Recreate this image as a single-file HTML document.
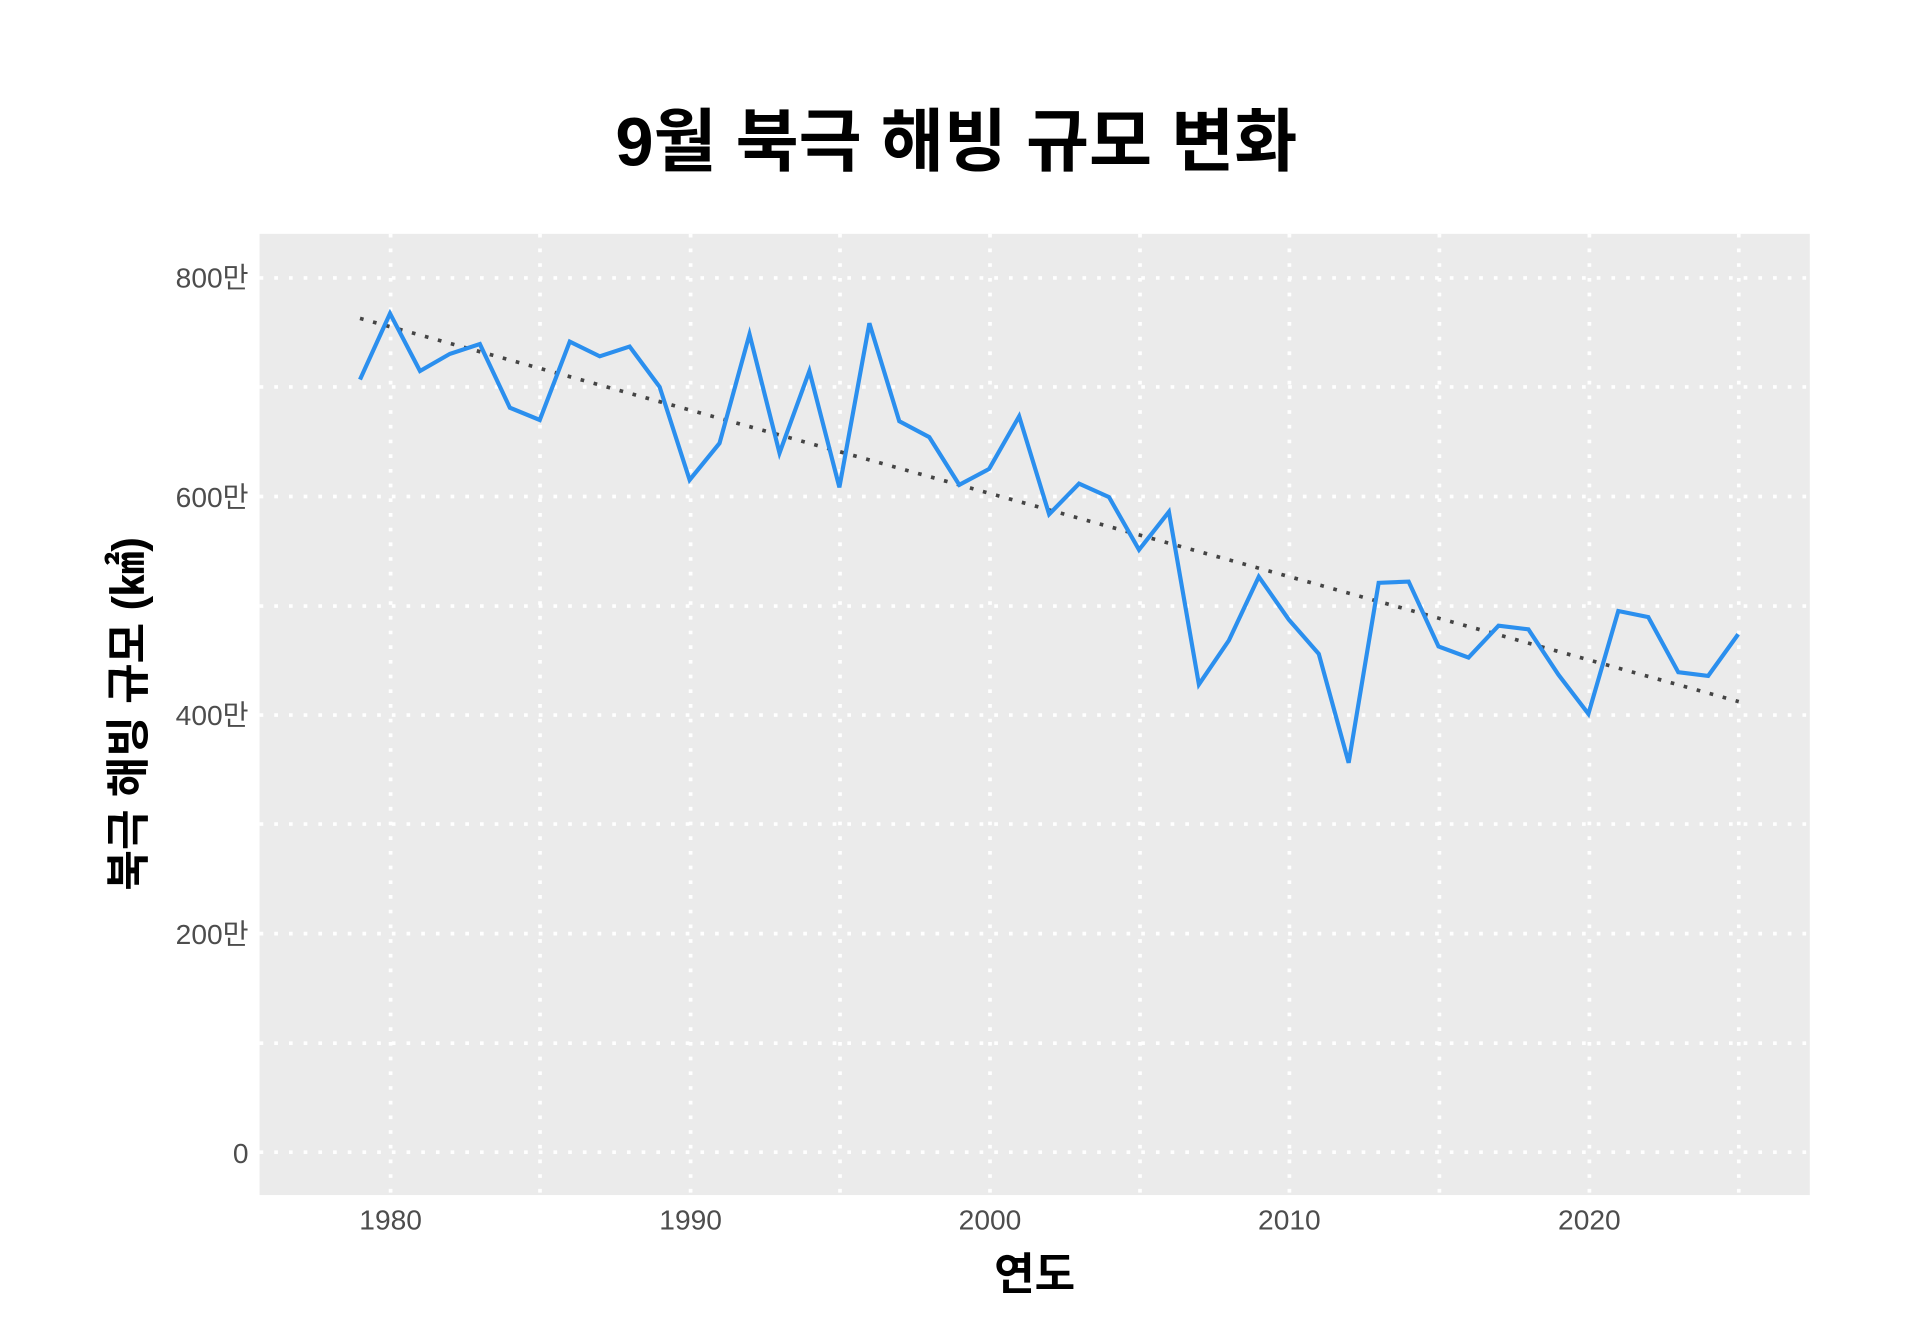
<!DOCTYPE html>
<html><head><meta charset="utf-8"><style>html,body{margin:0;padding:0;background:#fff;}svg{display:block}</style></head>
<body>
<svg width="1920" height="1329" viewBox="0 0 1568 1085.4" preserveAspectRatio="none" xmlns="http://www.w3.org/2000/svg" font-family="'Liberation Sans','Noto Sans CJK KR',sans-serif">
<rect x="212" y="191" width="1266" height="785" fill="#ebebeb"/>
<g stroke="#fff" stroke-width="3" stroke-dasharray="3 9" fill="none">
<line x1="212" x2="1478" y1="227" y2="227"/><line x1="212" x2="1478" y1="316" y2="316"/>
<line x1="212" x2="1478" y1="405.5" y2="405.5"/><line x1="212" x2="1478" y1="495" y2="495"/>
<line x1="212" x2="1478" y1="584" y2="584"/><line x1="212" x2="1478" y1="673" y2="673"/>
<line x1="212" x2="1478" y1="762.5" y2="762.5"/><line x1="212" x2="1478" y1="852" y2="852"/>
<line x1="212" x2="1478" y1="941" y2="941"/>
<line y1="191" y2="976" x1="319" x2="319"/><line y1="191" y2="976" x1="441" x2="441"/>
<line y1="191" y2="976" x1="564" x2="564"/><line y1="191" y2="976" x1="686" x2="686"/>
<line y1="191" y2="976" x1="808.5" x2="808.5"/><line y1="191" y2="976" x1="931" x2="931"/>
<line y1="191" y2="976" x1="1053" x2="1053"/><line y1="191" y2="976" x1="1175.5" x2="1175.5"/>
<line y1="191" y2="976" x1="1298" x2="1298"/><line y1="191" y2="976" x1="1420" x2="1420"/>
</g>
<line x1="294" y1="260" x2="1420" y2="573" stroke="#444" stroke-width="3" stroke-dasharray="3 8"/>
<polyline fill="none" stroke="#2b8fee" stroke-width="3.4" stroke-linejoin="miter" points="294,310 318.5,256 343,303 367.4,289 391.9,281 416.4,333 440.8,343 465.3,279 489.8,291 514.2,283 538.7,316 563.2,392 587.6,362 612.1,273 636.6,370 661,303 685.5,398 710,264 734.4,344 758.9,357 783.4,396 807.8,383 832.3,340 856.8,420 881.2,395 905.7,406 930.2,449 954.6,418 979.1,559 1003.6,523 1028,471 1052.5,506 1077,534 1101.4,623 1125.9,476 1150.4,475 1174.8,528 1199.3,537 1223.8,511 1248.2,514 1272.7,551 1297.2,583 1321.6,499 1346.1,504 1370.6,549 1395,552 1419.5,518"/>
<g fill="#4d4d4d" font-size="23" text-anchor="end">
<text x="203" y="235">800만</text><text x="203" y="414">600만</text>
<text x="203" y="592">400만</text><text x="203" y="771">200만</text><text x="203" y="950">0</text>
</g>
<g fill="#4d4d4d" font-size="23" text-anchor="middle">
<text x="319" y="1004">1980</text><text x="564" y="1004">1990</text><text x="808.5" y="1004">2000</text>
<text x="1053" y="1004">2010</text><text x="1298" y="1004">2020</text>
</g>
<text x="781" y="135" text-anchor="middle" font-size="56" font-weight="bold" fill="#000">9월 북극 해빙 규모 변화</text>
<text x="845" y="1053" text-anchor="middle" font-size="36" font-weight="bold" fill="#000">연도</text>
<text transform="translate(117,583) rotate(-90)" text-anchor="middle" font-size="36" font-weight="bold" fill="#000">북극 해빙 규모 (㎢)</text>
</svg>
</body></html>
